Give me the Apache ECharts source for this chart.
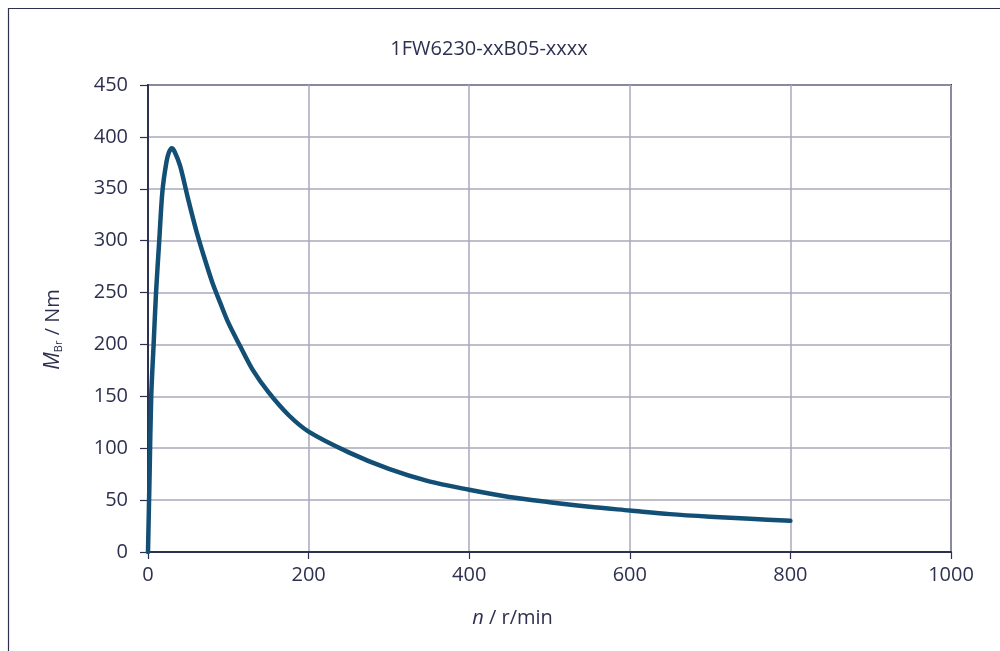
<!DOCTYPE html>
<html>
<head>
<meta charset="utf-8">
<script src="https://cdn.jsdelivr.net/npm/echarts@6/dist/echarts.min.js"></script>
<style>
  html, body { margin: 0; padding: 0; background: #ffffff; }
  #chart { width: 1000px; height: 651px; }
</style>
</head>
<body>
<div id="chart"></div>
<script>
// Braking torque vs. speed, 1FW6230-xxB05-xxxx
const chartTitle = '1FW6230-xxB05-xxxx';
const speed = [0, 2, 4, 7, 10, 14, 18, 23, 26, 29.5, 33, 40, 50, 60, 70, 80, 90, 100, 115, 130, 150, 175, 200, 250, 300, 350, 400, 450, 500, 550, 600, 650, 700, 750, 800];
const torque = [0, 75, 150, 200, 250, 300, 348, 376, 385, 389, 386, 372, 340, 310, 284, 260, 240, 221, 198, 176, 154, 132, 116, 96, 80, 68, 60, 53, 48, 43.5, 40, 36.5, 34, 32, 30];
const xTicks = { min: 0, max: 1000, step: 200 };
const yTicks = { min: 0, max: 450, step: 50 };

const ink = '#2e3050';
const gridColor = '#a9a9bb';
const curveColor = '#134f75';
const font = '"Open Sans", "Noto Sans", sans-serif';

const points = speed.map((n, i) => [n, torque[i]]);

const chart = echarts.init(document.getElementById('chart'), null, { renderer: 'canvas' });
chart.setOption({
  animation: false,
  backgroundColor: '#ffffff',
  title: {
    text: chartTitle,
    left: 484,
    top: 34,
    textAlign: 'center',
    textStyle: { fontFamily: font, fontSize: 20, fontWeight: 'normal', color: ink }
  },
  graphic: [{
    type: 'rect',
    shape: { x: 8.5, y: 8.5, width: 1100, height: 800 },
    style: { fill: 'none', stroke: ink, lineWidth: 1.2 },
    silent: true
  }],
  grid: {
    left: 148, right: 49, top: 85, bottom: 99,
    show: true, borderColor: ink, borderWidth: 2, backgroundColor: 'transparent'
  },
  xAxis: {
    type: 'value',
    min: xTicks.min, max: xTicks.max, interval: xTicks.step,
    name: '{i|n} / r/min',
    nameLocation: 'middle',
    nameGap: 56,
    nameTextStyle: {
      fontFamily: font, fontSize: 20, color: ink,
      padding: [0, 74, 0, 0],
      rich: { i: { fontFamily: font, fontSize: 20, fontStyle: 'italic', color: ink } }
    },
    axisLine: { show: true, onZero: false, lineStyle: { color: ink, width: 2 } },
    axisTick: { show: true, inside: false, length: 7, lineStyle: { color: ink, width: 1.2 } },
    axisLabel: {
      margin: 13, fontFamily: font, fontSize: 20, color: ink,
      formatter: (v) => String(v)
    },
    splitLine: { show: true, lineStyle: { color: gridColor, width: 1.5 } }
  },
  yAxis: {
    type: 'value',
    min: yTicks.min, max: yTicks.max, interval: yTicks.step,
    name: '{i|M}{s|Br} / Nm',
    nameLocation: 'middle',
    nameGap: 84,
    nameRotate: 90,
    nameTextStyle: {
      fontFamily: font, fontSize: 20, color: ink,
      padding: [0, 22, 0, 0],
      rich: {
        i: { fontFamily: font, fontSize: 21, fontStyle: 'italic', color: ink },
        s: { fontFamily: font, fontSize: 11, color: ink, verticalAlign: 'bottom', padding: [9, 0, 0, 0] }
      }
    },
    axisLine: { show: true, onZero: false, lineStyle: { color: ink, width: 2 } },
    axisTick: { show: true, inside: false, length: 8, lineStyle: { color: ink, width: 1.2 } },
    axisLabel: { margin: 20, fontFamily: font, fontSize: 20, color: ink },
    splitLine: { show: true, lineStyle: { color: gridColor, width: 1.5 } }
  },
  series: [{
    type: 'line',
    data: points,
    smooth: 0.3,
    showSymbol: false,
    lineStyle: { color: curveColor, width: 4.5, cap: 'round', join: 'round' },
    z: 3
  }]
});
</script>
</body>
</html>
